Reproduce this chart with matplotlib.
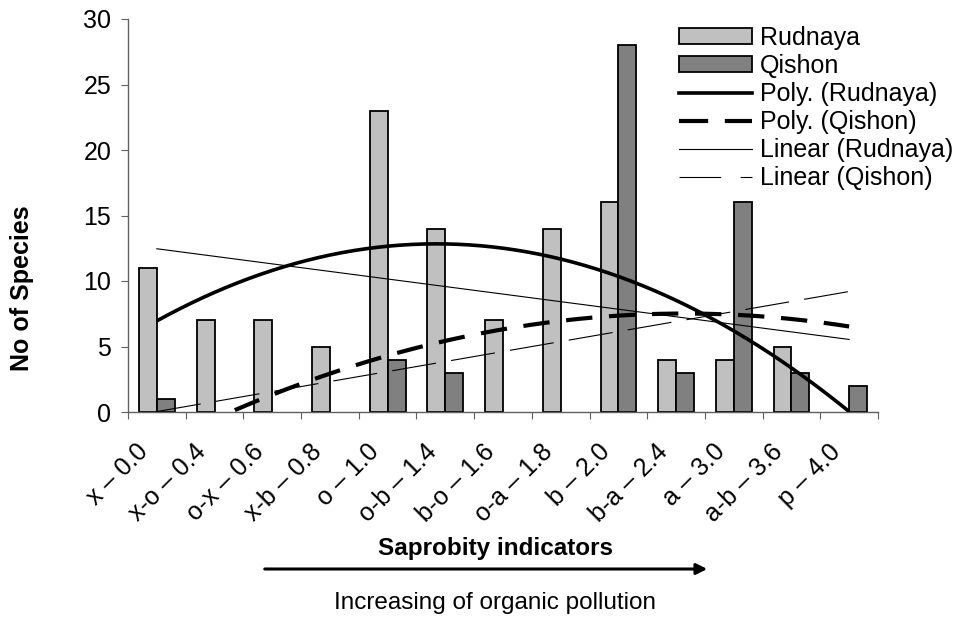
import numpy as np
import matplotlib
matplotlib.use("Agg")
import matplotlib.pyplot as plt
from matplotlib.patches import Patch, FancyArrowPatch
from matplotlib.lines import Line2D
from matplotlib.transforms import ScaledTranslation

categories = ["x – 0.0", "x-o – 0.4", "o-x – 0.6", "x-b – 0.8", "o – 1.0", "o-b – 1.4",
              "b-o – 1.6", "o-a – 1.8", "b – 2.0", "b-a – 2.4", "a – 3.0", "a-b – 3.6", "p – 4.0"]
rudnaya = [11, 7, 7, 5, 23, 14, 7, 14, 16, 4, 4, 5, 0]
qishon = [1, 0, 0, 0, 4, 3, 0, 0, 28, 3, 16, 3, 2]
yticks = [0, 5, 10, 15, 20, 25, 30]

plt.rcParams.update({
    "font.family": ["Liberation Sans", "DejaVu Sans"],
    "font.size": 18,
    "lines.scale_dashes": False,
})

W, H = 956, 617
fig = plt.figure(figsize=(W / 100, H / 100), dpi=100)
ax = fig.add_axes([128 / W, 1 - 412 / H, (878 - 128) / W, (412 - 19) / H])

x = np.arange(len(categories))
r = np.array(rudnaya, dtype=float)
q = np.array(qishon, dtype=float)
bw = 0.31
# empty categories get no bar at all (Excel draws nothing for 0)
ax.bar(x - bw / 2, np.where(r == 0, np.nan, r), width=bw, color="#c0c0c0",
       edgecolor="black", linewidth=1.3, zorder=2)
ax.bar(x + bw / 2, np.where(q == 0, np.nan, q), width=bw, color="#808080",
       edgecolor="black", linewidth=1.3, zorder=2)

# trend lines (as Excel: 2nd order poly + linear, fitted on the bar values)
xs = np.linspace(0, len(categories) - 1, 300)
pr = np.polyval(np.polyfit(x, r, 2), xs)
pq = np.polyval(np.polyfit(x, q, 2), xs)
lr = np.polyval(np.polyfit(x, r, 1), xs)
lq = np.polyval(np.polyfit(x, q, 1), xs)
ax.plot(xs, lr, color="black", lw=0.8, zorder=3)
ax.plot(xs, lq, color="black", lw=0.8, dashes=(32, 11), zorder=3)
ax.plot(xs, pr, color="black", lw=2.6, solid_capstyle="butt", zorder=4)
ax.plot(xs, pq, color="black", lw=3.0, dashes=(19, 12), dash_capstyle="butt", zorder=4)

ax.set_xlim(-0.5, len(categories) - 0.5)
ax.set_ylim(0, 30)
ax.set_yticks(yticks)
ax.set_xticks(np.arange(len(categories) + 1) - 0.5)
ax.set_xticklabels([])
ax.set_xticks(x, minor=True)
ax.set_xticklabels(categories, minor=True, rotation=45, ha="right", va="center",
                   rotation_mode="anchor")
ax.tick_params(axis="x", which="minor", length=0, pad=26)
ax.tick_params(axis="x", which="major", length=5, direction="out", color="#606060")
ax.tick_params(axis="y", length=5, direction="out", color="#606060", pad=7)
shift = ScaledTranslation(-12 / 100, 0, fig.dpi_scale_trans)
for lab in ax.get_xticklabels(minor=True):
    lab.set_transform(lab.get_transform() + shift)

for s in ["top", "right"]:
    ax.spines[s].set_visible(False)
for s in ["left", "bottom"]:
    ax.spines[s].set_color("#606060")
    ax.spines[s].set_linewidth(1.0)

handles = [
    Patch(facecolor="#c0c0c0", edgecolor="black", linewidth=1.3),
    Patch(facecolor="#808080", edgecolor="black", linewidth=1.3),
    Line2D([], [], color="black", lw=2.6),
    Line2D([], [], color="black", lw=3.0, dashes=(21, 12)),
    Line2D([], [], color="black", lw=0.8),
    Line2D([], [], color="black", lw=0.8, dashes=(30, 14)),
]
labels = ["Rudnaya", "Qishon", "Poly. (Rudnaya)", "Poly. (Qishon)",
          "Linear (Rudnaya)", "Linear (Qishon)"]
fig.legend(handles, labels, loc="upper left", bbox_to_anchor=(679 / W, 1 - 26 / H),
           frameon=False, borderpad=0, borderaxespad=0, handlelength=2.9,
           handleheight=0.6, handletextpad=0.35, labelspacing=0.16, fontsize=18)

fig.text(22 / W, 1 - 288 / H, "No of Species", rotation=90, ha="center", va="center",
         fontsize=18, weight="bold")
fig.text(495 / W, 1 - 549 / H, "Saprobity indicators", ha="center", va="center",
         fontsize=17.5, weight="bold")
fig.text(495 / W, 1 - 603 / H, "Increasing of organic pollution", ha="center", va="center",
         fontsize=17.5)
arrow = FancyArrowPatch((262 / W, 1 - 569 / H), (710 / W, 1 - 569 / H),
                        transform=fig.transFigure, arrowstyle="-|>", mutation_scale=16,
                        color="black", lw=2.2)
fig.patches.append(arrow)

fig.savefig("out.png", dpi=100)
